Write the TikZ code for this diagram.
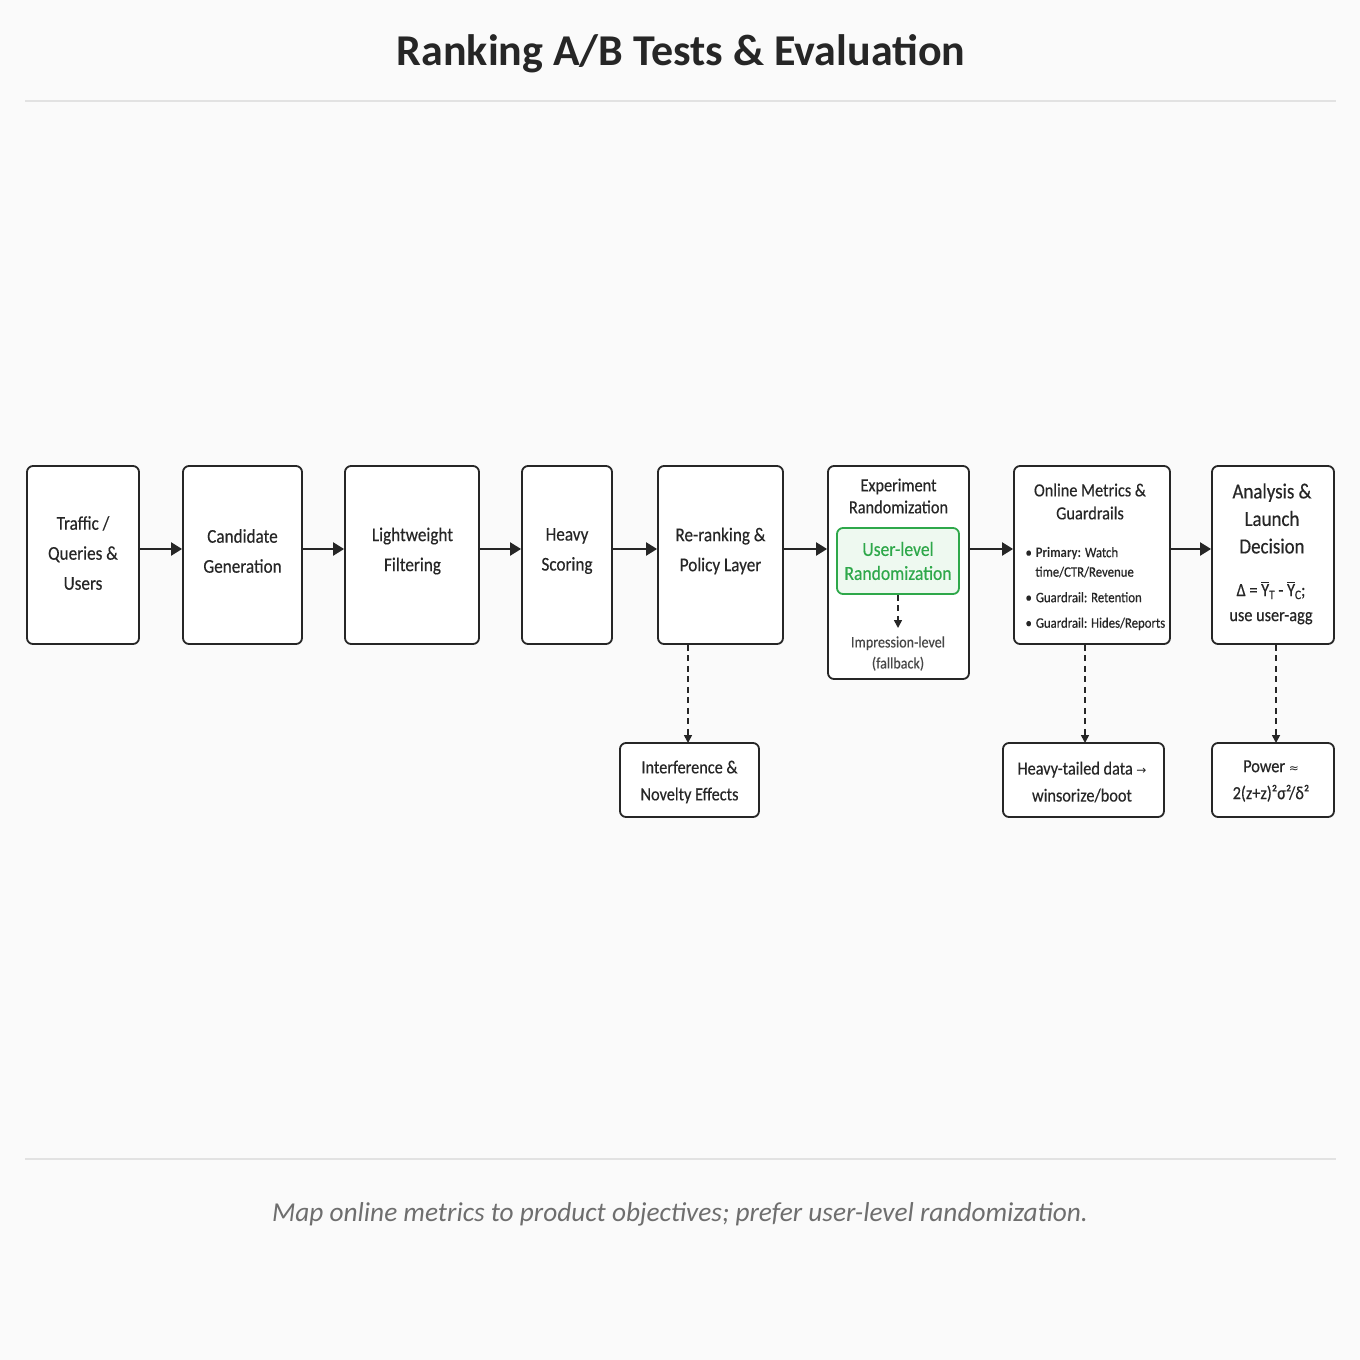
\documentclass[tikz,border=0pt]{standalone}
\usepackage{fontspec}
\setmainfont{Carlito}[FakeStretch=0.88,FakeBold=0.35]
\newfontfamily\plainfont{Carlito}
\newfontfamily\narrowfont{Carlito}[FakeStretch=0.88]
\newfontfamily\symfont{DejaVu Sans}
\usetikzlibrary{arrows.meta,positioning}
\definecolor{bgc}{HTML}{FAFAFA}
\definecolor{ink}{HTML}{262626}
\definecolor{rulec}{HTML}{E2E2E2}
\definecolor{greenc}{HTML}{2EA84A}
\definecolor{greenf}{HTML}{EEF9F0}
\definecolor{footc}{HTML}{6E6E6E}
\newcommand\ybar[1]{{\setbox0\hbox{Y}\rlap{\raisebox{\dimexpr\ht0+1.5pt\relax}{\rule{\wd0}{1pt}}}Y\raisebox{-3pt}{\fontsize{13}{13}\selectfont #1}}}
\tikzset{
  box/.style={draw=ink, line width=1.8pt, rounded corners=6pt, fill=white, inner sep=0pt},
  boxtext/.style={font=\fontsize{19.5}{30}\selectfont, text=ink, align=center},
  flow/.style={draw=ink, line width=2.2pt, -{Triangle[length=11pt,width=13pt]}},
  dflow/.style={draw=ink, line width=1.6pt, dash pattern=on 6pt off 4.5pt, -{Triangle[length=8pt,width=8pt]}},
}
\begin{document}
\begin{tikzpicture}[x=1pt,y=-1pt]
\fill[bgc] (0,0) rectangle (1360,1360);
\useasboundingbox (0,0) rectangle (1360,1360);
% title
\node[font=\plainfont\fontsize{44}{44}\selectfont\bfseries, text=ink] (title) at (681,54) {Ranking A/B Tests \& Evaluation};
\draw[rulec, line width=1.5pt] (25,101) -- (1336,101);
\draw[rulec, line width=1.5pt] (25,1159) -- (1336,1159);
\node[font=\plainfont\fontsize{27.3}{27.3}\selectfont\itshape, text=footc] (foot) at (680,1214) {Map online metrics to product objectives; prefer user-level randomization.};
% boxes
\node[box, minimum width=112pt, minimum height=178pt] (b1) at (83,555) {};
\node[boxtext] at (83,553) {Traffic /\\Queries \&\\Users};
\node[box, minimum width=119pt, minimum height=178pt] (b2) at (242.5,555) {};
\node[boxtext] at (242.5,551) {Candidate\\Generation};
\node[box, minimum width=134pt, minimum height=178pt] (b3) at (412,555) {};
\node[boxtext] at (412.5,551) {Lightweight\\Filtering};
\node[box, minimum width=90pt, minimum height=178pt] (b4) at (567,555) {};
\node[boxtext] at (567,551) {Heavy\\Scoring};
\node[box, minimum width=125pt, minimum height=178pt] (b5) at (720.5,555) {};
\node[boxtext] at (720.5,551) {Re-ranking \&\\Policy Layer};
% experiment
\node[box, minimum width=141pt, minimum height=213pt] (b6) at (898.5,572.5) {};
\node[font=\fontsize{18.5}{22}\selectfont, text=ink, align=center] (b6t) at (898.5,496) {Experiment\\Randomization};
\node[draw=greenc, line width=1.8pt, rounded corners=6pt, fill=greenf, minimum width=122pt, minimum height=66pt, inner sep=0pt] (g) at (898,561) {};
\node[font=\fontsize{20}{24}\selectfont, text=greenc, align=center] at (g.center) {User-level\\Randomization};
\coordinate (imp) at (898,628);
\draw[dflow] (g.south) -- (imp);
\node[font=\fontsize{16}{21}\selectfont, text=ink!85, align=center] (b6b) at (898,653.5) {Impression-level\\(fallback)};
% online metrics
\node[box, minimum width=156pt, minimum height=178pt] (b7) at (1092,555) {};
\node[font=\fontsize{18.5}{23}\selectfont, text=ink, align=center] (b7t) at (1090,501.5) {Online Metrics \&\\Guardrails};
\node[font=\fontsize{14.5}{19.5}\selectfont, text=ink, align=left, anchor=north west] (b7l) at (1022,543.5) {%
\textbullet\hspace{4pt}{\narrowfont\bfseries Primary:} Watch\\\hspace{10pt}time/CTR/Revenue\\[6pt]%
\textbullet\hspace{4pt}Guardrail: Retention\\[6pt]%
\textbullet\hspace{4pt}Guardrail: Hides/Reports};
% analysis
\node[box, minimum width=122pt, minimum height=178pt] (b8) at (1273,555) {};
\node[font=\fontsize{21.5}{27.5}\selectfont, text=ink, align=center] (b8t) at (1272,518.5) {Analysis \&\\Launch\\Decision};
\node[font=\fontsize{18.5}{25}\selectfont, text=ink, align=center] (b8b) at (1271,603) {Δ = \ybar{T} - \ybar{C};\\use user-agg};
% lower boxes
\node[box, minimum width=139pt, minimum height=74pt] (l1) at (689.5,780) {};
\node[boxtext, font=\fontsize{18.5}{27}\selectfont] at (689.5,782) {Interference \&\\Novelty Effects};
\node[box, minimum width=161pt, minimum height=74pt] (l2) at (1083.5,780) {};
\node[boxtext, font=\fontsize{18.5}{27}\selectfont] at (1082,782) {Heavy-tailed data {\symfont\fontsize{12}{12}\selectfont→}\\winsorize/boot};
\node[box, minimum width=122pt, minimum height=74pt] (l3) at (1273,780) {};
\node[boxtext, font=\fontsize{18.5}{27}\selectfont] at (1271,781) {Power {\symfont\fontsize{12}{12}\selectfont≈}\\2(z+z)²σ²/δ²};
% flow arrows
\draw[flow] (b1.east |- 0,549) -- (b2.west |- 0,549);
\draw[flow] (b2.east |- 0,549) -- (b3.west |- 0,549);
\draw[flow] (b3.east |- 0,549) -- (b4.west |- 0,549);
\draw[flow] (b4.east |- 0,549) -- (b5.west |- 0,549);
\draw[flow] (b5.east |- 0,549) -- (b6.west |- 0,549);
\draw[flow] (b6.east |- 0,549) -- (b7.west |- 0,549);
\draw[flow] (b7.east |- 0,549) -- (b8.west |- 0,549);
% dashed down arrows
\draw[dflow] (b5.south -| 688,0) -- (688,743);
\draw[dflow] (b7.south -| 1085,0) -- (1085,743);
\draw[dflow] (b8.south -| 1276,0) -- (1276,743);
\end{tikzpicture}
\end{document}
